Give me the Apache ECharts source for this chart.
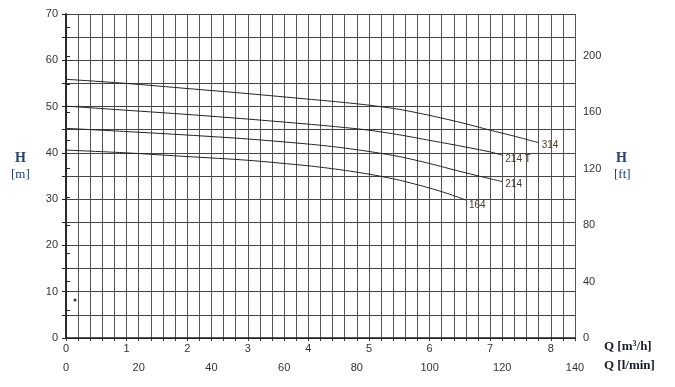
<!DOCTYPE html>
<html>
<head>
<meta charset="utf-8">
<script src="https://cdn.jsdelivr.net/npm/echarts@6/dist/echarts.min.js"></script>
<style>html,body{margin:0;padding:0;background:#fff}#c{width:675px;height:387px}</style>
</head>
<body>
<div id="c"></div>
<script>
// Flow in m3/h, head in m
const curve314  = [[0,55.9],[1,55.0],[2,53.9],[3,52.8],[4,51.6],[4.5,51.0],[5,50.3],[5.5,49.4],[6,48.1],[6.5,46.6],[7,44.9],[7.4,43.6],[7.8,42.2]];
const curve214T = [[0,50.1],[1,49.2],[2,48.3],[3,47.3],[4,46.2],[4.5,45.6],[5,44.9],[5.5,43.9],[6,42.7],[6.5,41.5],[7,40.2],[7.2,39.5]];
const curve214  = [[0,45.3],[1,44.6],[2,43.85],[3,43.0],[4,41.9],[4.5,41.2],[5,40.3],[5.5,39.2],[6,37.7],[6.5,36.0],[7,34.4],[7.2,33.8]];
const curve164  = [[0,40.6],[1,40.0],[2,39.2],[3,38.4],[4,37.2],[4.5,36.4],[5,35.4],[5.5,34.1],[6,32.4],[6.3,31.2],[6.6,29.8]];
const curveNames = ['314','214 T','214','164'];
const strayDot = [[0.15,8.2]];
const qMaxM3h = 8.4, qMaxLmin = 140, hMaxM = 70, hMaxFt = 70*3.28084;

const labelOffsets = {'314':[0,3],'214 T':[0,4],'214':[0,3],'164':[0,5]};
const curves = [curve314, curve214T, curve214, curve164];
const tickFont = {fontFamily:'Liberation Sans, Arial, sans-serif', fontSize:11, color:'#333'};

const series = curves.map((d,i)=>({
  name: curveNames[i], type:'line', smooth:0.25, symbol:'none', xAxisIndex:0, yAxisIndex:0,
  lineStyle:{color:'#222', width:1},
  endLabel:{show:true, formatter:curveNames[i], distance:3, offset:labelOffsets[curveNames[i]],
    fontFamily:'Liberation Sans, Arial, sans-serif', fontSize:10, color:'#4a3a30'},
  data: d
}));
series.push({type:'scatter', data:strayDot, symbolSize:3, itemStyle:{color:'#000'}, xAxisIndex:0, yAxisIndex:0, silent:true});

const chart = echarts.init(document.getElementById('c'), null, {renderer:'canvas'});
chart.setOption({
  animation:false,
  grid:{left:66, right:100, top:14, bottom:49},
  xAxis:[
    {type:'value', min:0, max:qMaxM3h, interval:1, position:'bottom',
     axisLine:{show:true, lineStyle:{color:'#222', width:1.5}},
     axisTick:{show:false},
     axisLabel:Object.assign({margin:5, showMaxLabel:false}, tickFont),
     splitLine:{show:false}},
    {type:'value', min:0, max:qMaxLmin, interval:20, position:'bottom', offset:19,
     axisLine:{show:true, lineStyle:{color:'#222', width:1.2}},
     axisTick:{show:true, length:3, inside:false, lineStyle:{color:'#222'}},
     axisLabel:Object.assign({margin:5}, tickFont),
     splitLine:{show:false}},
    {type:'value', min:0, max:qMaxM3h, interval:0.2, position:'bottom',
     axisLine:{show:false}, axisTick:{show:true, length:3, lineStyle:{color:'#333'}}, axisLabel:{show:false},
     splitLine:{show:true, lineStyle:{color:'#555', width:1}}}
  ],
  yAxis:[
    {type:'value', min:0, max:hMaxM, interval:5, position:'left',
     axisLine:{show:true, lineStyle:{color:'#222', width:1.5}},
     axisTick:{show:true, length:4, lineStyle:{color:'#222'}},
     axisLabel:Object.assign({margin:8, formatter:v=>v%10===0?String(v):''}, tickFont),
     splitLine:{show:true, lineStyle:{color:'#444', width:1}}},
    {type:'value', min:0, max:hMaxFt, interval:20, position:'right',
     axisLine:{show:true, lineStyle:{color:'#222', width:1.5}},
     axisTick:{show:true, length:4, lineStyle:{color:'#222'}},
     axisLabel:Object.assign({margin:8, showMaxLabel:false, formatter:v=>v%40===0?String(v):''}, tickFont),
     splitLine:{show:false}}
  ],
  graphic:[
    {type:'text', left:15, top:151, style:{text:'H', font:'bold 14px "Liberation Serif", serif', fill:'#23406e'}},
    {type:'text', left:11, top:168, style:{text:'[m]', font:'13px "Liberation Serif", serif', fill:'#23406e'}},
    {type:'text', left:616, top:151, style:{text:'H', font:'bold 14px "Liberation Serif", serif', fill:'#23406e'}},
    {type:'text', left:614, top:168, style:{text:'[ft]', font:'13px "Liberation Serif", serif', fill:'#23406e'}},
    {type:'text', left:604, top:340, style:{rich:{a:{font:'bold 13px "Liberation Serif", serif', fill:'#1a1a2a'}, s:{font:'bold 8px "Liberation Serif", serif', fill:'#1a1a2a', verticalAlign:'top'}}, text:'{a|Q [m}{s|3}{a|/h]}'}},
    {type:'text', left:604, top:359, style:{text:'Q [l/min]', font:'bold 13px "Liberation Serif", serif', fill:'#1a1a2a'}}
  ],
  series: series
});
</script>
</body>
</html>
